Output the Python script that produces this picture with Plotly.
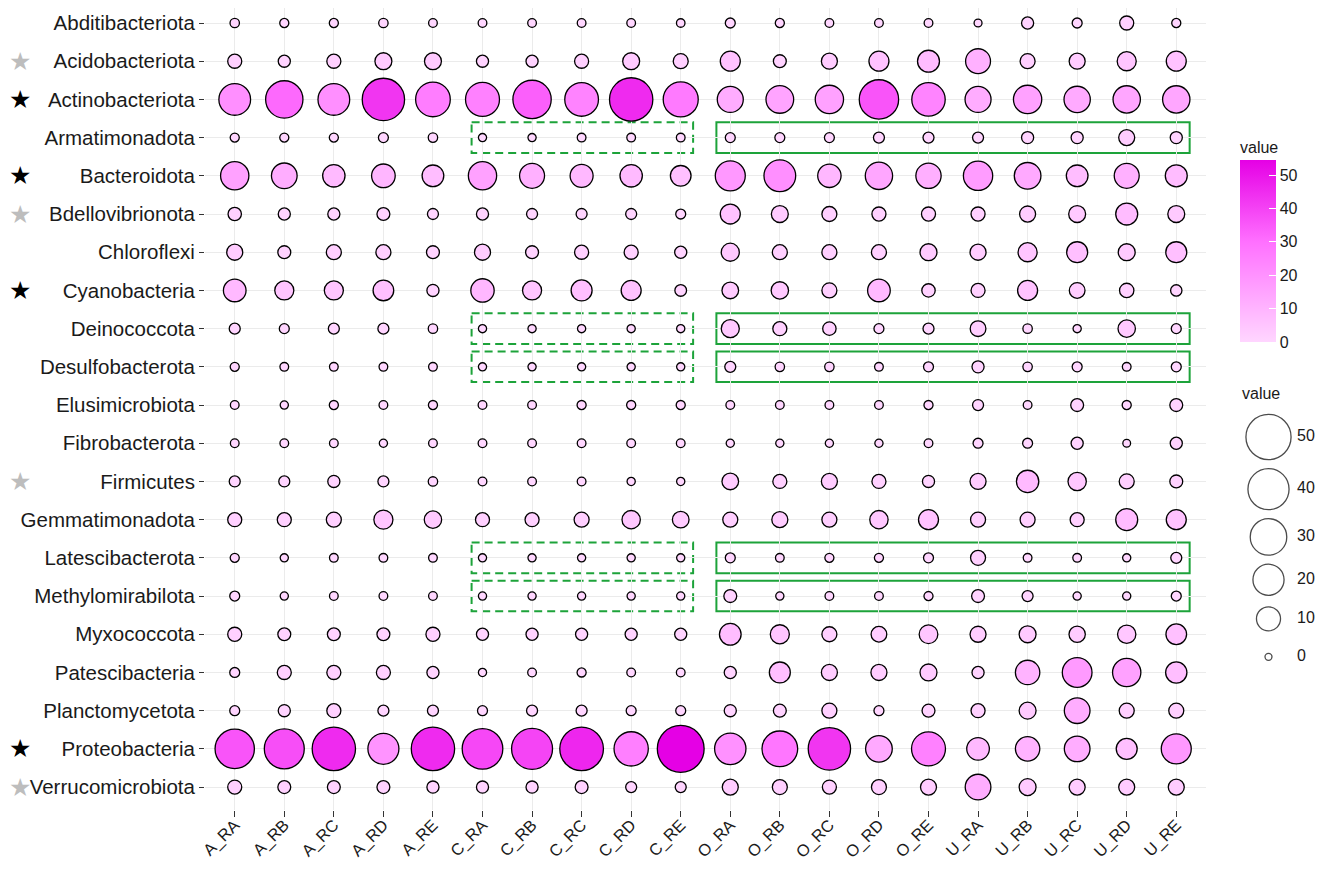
import math
import plotly.graph_objects as go

# ---------------- data ----------------
samples = ['A_RA', 'A_RB', 'A_RC', 'A_RD', 'A_RE', 'C_RA', 'C_RB', 'C_RC', 'C_RD', 'C_RE',
           'O_RA', 'O_RB', 'O_RC', 'O_RD', 'O_RE', 'U_RA', 'U_RB', 'U_RC', 'U_RD', 'U_RE']

phyla = ['Abditibacteriota', 'Acidobacteriota', 'Actinobacteriota', 'Armatimonadota',
         'Bacteroidota', 'Bdellovibrionota', 'Chloroflexi', 'Cyanobacteria', 'Deinococcota',
         'Desulfobacterota', 'Elusimicrobiota', 'Fibrobacterota', 'Firmicutes',
         'Gemmatimonadota', 'Latescibacterota', 'Methylomirabilota', 'Myxococcota',
         'Patescibacteria', 'Planctomycetota', 'Proteobacteria', 'Verrucomicrobiota']

Abditibacteriota = [0.2, 0.15, 0.15, 0.2, 0.1, 0.1, 0.1, 0.1, 0.1, 0.08, 0.3, 0.15, 0.1, 0.1, 0.1, 0.03, 0.9, 0.3, 1.7, 0.15]
Acidobacteriota = [1.7, 0.9, 1.7, 3.4, 3.4, 0.9, 0.9, 1.7, 3.4, 2.2, 5.8, 1.2, 2.8, 5.8, 7.7, 11, 2.2, 2.8, 5, 5.8]
Actinobacteriota = [21, 31.6, 21, 43, 26.3, 25, 33.7, 24.5, 45.4, 27, 12.4, 14.7, 15.6, 36, 24, 12.4, 15.6, 12.8, 14.2, 14.2]
Armatimonadota = [0.15, 0.15, 0.15, 0.3, 0.2, 0.05, 0.05, 0.1, 0.1, 0.1, 0.3, 0.3, 0.3, 0.55, 0.55, 0.55, 0.9, 0.9, 2.8, 0.9]
Bacteroidota = [15.6, 12, 8.1, 9.5, 7.4, 15.6, 11.1, 8.8, 8.1, 6.4, 18.2, 21, 9.2, 14.2, 11.5, 17.1, 13.3, 7.4, 11.1, 7.7]
Bdellovibrionota = [1.4, 0.9, 0.9, 1.2, 0.55, 0.9, 0.55, 0.55, 0.55, 0.3, 5.8, 3.4, 2.2, 1.7, 1.7, 1.7, 2.8, 3.4, 7.7, 3.4]
Chloroflexi = [2.8, 1.2, 2.2, 2.2, 1.2, 2.8, 1.2, 1.7, 1.7, 0.9, 4.2, 2.2, 2.2, 2.2, 3.4, 2.8, 5, 6.7, 3.4, 6.7]
Cyanobacteria = [8.4, 5, 5, 6.4, 0.9, 9.2, 5, 6.7, 5.8, 0.75, 3.2, 3.7, 2.2, 8.4, 1.4, 1.7, 5.8, 2.6, 1.85, 0.65]
Deinococcota = [0.55, 0.3, 0.55, 0.55, 0.2, 0.05, 0.05, 0.05, 0.05, 0.05, 4.2, 1.7, 1.4, 0.3, 0.55, 2.6, 0.2, 0.05, 3.7, 0.3]
Desulfobacterota = [0.15, 0.1, 0.1, 0.1, 0.1, 0.05, 0.05, 0.05, 0.05, 0.05, 0.55, 0.2, 0.2, 0.1, 0.3, 0.9, 0.2, 0.3, 0.1, 0.3]
Elusimicrobiota = [0.1, 0.05, 0.15, 0.1, 0.15, 0.1, 0.1, 0.15, 0.15, 0.15, 0.1, 0.1, 0.1, 0.1, 0.15, 0.55, 0.1, 1.2, 0.15, 1.2]
Fibrobacterota = [0.1, 0.1, 0.1, 0.05, 0.1, 0.1, 0.1, 0.1, 0.1, 0.1, 0.05, 0.05, 0.05, 0.05, 0.1, 0.3, 0.3, 0.9, 0.02, 0.9]
Firmicutes = [0.55, 0.55, 0.9, 0.55, 0.2, 0.1, 0.1, 0.1, 0.05, 0.05, 3.2, 1.7, 2.8, 1.7, 0.9, 2.8, 8.1, 4.4, 2.2, 1.2]
Gemmatimonadota = [1.7, 1.7, 2.2, 5, 3.7, 1.7, 1.7, 2.2, 4.4, 3.2, 2.2, 2.8, 2.2, 4.4, 5.8, 2.2, 2.2, 1.7, 7.7, 5.8]
Latescibacterota = [0.15, 0.05, 0.1, 0.1, 0.1, 0.05, 0.05, 0.05, 0.05, 0.05, 0.3, 0.1, 0.15, 0.15, 0.3, 2.2, 0.1, 0.1, 0.05, 0.55]
Methylomirabilota = [0.3, 0.05, 0.1, 0.1, 0.1, 0.05, 0.05, 0.05, 0.05, 0.05, 1.2, 0.05, 0.1, 0.1, 0.15, 1.2, 0.55, 0.05, 0.05, 0.3]
Myxococcota = [1.7, 1.2, 1.2, 1.2, 1.7, 0.9, 0.9, 0.9, 0.9, 0.9, 7.4, 5, 2.2, 2.6, 4.7, 2.8, 3.4, 3, 4.4, 6.4]
Patescibacteria = [0.3, 1.7, 1.7, 1.7, 0.9, 0.05, 0.1, 0.15, 0.1, 0.1, 0.9, 6.7, 2.8, 2.8, 3.4, 0.9, 10.4, 17.7, 15.6, 7]
Planctomycetota = [0.3, 0.9, 1.7, 0.55, 0.55, 0.3, 0.55, 0.55, 0.3, 0.3, 0.9, 1.2, 2.2, 0.3, 1.2, 1.7, 3.4, 12, 2.2, 2.2]
Proteobacteria = [36, 37.4, 45.4, 19.8, 45.4, 38.9, 39.7, 46.2, 25.6, 54.5, 20.4, 28.3, 43, 13.3, 25, 8.4, 10.4, 12, 6.7, 18.2]
Verrucomicrobiota = [1.7, 1.2, 1.2, 1.2, 0.9, 0.9, 0.9, 1.2, 0.55, 0.55, 2.8, 2.2, 1.7, 2.2, 2.8, 12, 3.4, 2.8, 2.8, 2.8]

black_star = ['Actinobacteriota', 'Bacteroidota', 'Cyanobacteria', 'Proteobacteria']
grey_star = ['Acidobacteriota', 'Bdellovibrionota', 'Firmicutes', 'Verrucomicrobiota']
boxed_rows = ['Armatimonadota', 'Deinococcota', 'Desulfobacterota', 'Latescibacterota', 'Methylomirabilota']
dashed_cols = ['C_RA', 'C_RE']
solid_cols = ['O_RA', 'U_RE']
size_legend_values = [50, 40, 30, 20, 10, 0]
colorbar_ticks = [0, 10, 20, 30, 40, 50]

rows = [Abditibacteriota, Acidobacteriota, Actinobacteriota, Armatimonadota, Bacteroidota,
        Bdellovibrionota, Chloroflexi, Cyanobacteria, Deinococcota, Desulfobacterota,
        Elusimicrobiota, Fibrobacterota, Firmicutes, Gemmatimonadota, Latescibacterota,
        Methylomirabilota, Myxococcota, Patescibacteria, Planctomycetota, Proteobacteria,
        Verrucomicrobiota]

# ---------------- helpers ----------------
VMAX = max(max(r) for r in rows)
D_MIN, D_RANGE = 7.0, 40.0


def diam(v):
    return D_MIN + D_RANGE * math.sqrt(max(v, 0) / 55.0)


colorscale = [[0.0, '#FFD6FF'], [0.55, '#FF70FF'], [1.0, '#E500E5']]

# ---------------- long format ----------------
xs, ys, vals, sizes = [], [], [], []
for ri, row in enumerate(rows):
    for ci, v in enumerate(row):
        xs.append(ci)
        ys.append(ri)
        vals.append(v)
        sizes.append(diam(v))

# ---------------- layout geometry ----------------
# page body has an 8px margin, so figure coordinates = screen coordinates - 8
OFF = 8
W, H = 1325 - 2 * OFF, 870 - 2 * OFF
ML, MR, MT = 205 - OFF, 2, 0
panel_bottom = 810 - OFF
MB = H - panel_bottom
PW = W - ML - MR
PH = H - MT - MB
panel_right = 1206 - OFF
x_dom_end = (panel_right - ML) / PW
row_step = 38.2
top_pad = (23 - OFF) / row_step
leg_left = 1222 - OFF


def px(x_screen):
    return x_screen - OFF


fig = go.Figure()

fig.add_trace(go.Scatter(
    x=xs, y=ys, mode='markers',
    marker=dict(size=sizes, color=vals, coloraxis='coloraxis', opacity=1,
                line=dict(color='black', width=1.3)),
    showlegend=False, hoverinfo='skip'))

# size legend (helper axes measured in figure pixels)
leg_y = []
cur = px(437.0)
prev_h = None
for v in size_legend_values:
    h = max(diam(v) + 9, 38)
    if prev_h is not None:
        cur += (prev_h + h) / 2
    leg_y.append(cur)
    prev_h = h
fig.add_trace(go.Scatter(
    x=[px(1268.5)] * len(size_legend_values), y=leg_y, mode='markers',
    marker=dict(size=[diam(v) for v in size_legend_values], color='white',
                line=dict(color='black', width=1.3)),
    xaxis='x2', yaxis='y2', cliponaxis=False, showlegend=False, hoverinfo='skip'))
fig.add_trace(go.Scatter(
    x=[px(1297)] * len(size_legend_values), y=leg_y, mode='text',
    text=[str(v) for v in size_legend_values], textposition='middle right',
    textfont=dict(size=16, color='#1a1a1a'),
    xaxis='x2', yaxis='y2', cliponaxis=False, showlegend=False, hoverinfo='skip'))

annotations = [dict(text='value', x=px(1240), y=px(393), xref='x2', yref='y2', showarrow=False,
                    xanchor='left', yanchor='middle', font=dict(size=16, color='#1a1a1a'))]

# stars (left edge of the figure)
for name in black_star + grey_star:
    annotations.append(dict(text='★', x=(0 - ML) / PW, xref='paper',
                            y=phyla.index(name), yref='y', showarrow=False,
                            xanchor='left', yanchor='middle', borderpad=0,
                            font=dict(size=25, family='DejaVu Sans',
                                      color='black' if name in black_star else '#BDBDBD')))

# rectangles
shapes = []
for name in boxed_rows:
    r = phyla.index(name)
    c0, c1 = samples.index(dashed_cols[0]), samples.index(dashed_cols[1])
    shapes.append(dict(type='rect', xref='x', yref='y', x0=c0 - 0.22, x1=c1 + 0.25,
                       y0=r - 0.4, y1=r + 0.4, layer='below',
                       line=dict(color='#1DA33A', width=2, dash='8px,5px')))
    c0, c1 = samples.index(solid_cols[0]), samples.index(solid_cols[1])
    shapes.append(dict(type='rect', xref='x', yref='y', x0=c0 - 0.28, x1=c1 + 0.27,
                       y0=r - 0.4, y1=r + 0.4, layer='below',
                       line=dict(color='#1DA33A', width=2)))

font_family = 'Liberation Sans, Arial, sans-serif'
cb_bottom = px(342)

fig.update_layout(
    width=W, height=H, autosize=False,
    margin=dict(l=ML, r=MR, t=MT, b=MB, pad=0, autoexpand=False),
    paper_bgcolor='white', plot_bgcolor='white',
    font=dict(family=font_family, color='#1a1a1a'),
    xaxis=dict(domain=[0, x_dom_end], range=[-0.6, len(samples) - 0.4],
               tickvals=list(range(len(samples))), ticktext=samples,
               tickangle=-45, tickfont=dict(size=16.5, color='#1a1a1a'),
               ticklabelstandoff=-8,
               ticks='outside', ticklen=6, tickwidth=1.3, tickcolor='#333333',
               showgrid=True, gridcolor='#EBEBEB', gridwidth=1.4,
               zeroline=False, showline=False, automargin=False),
    yaxis=dict(domain=[0, 1], range=[len(phyla) - 0.4, -top_pad],
               tickvals=list(range(len(phyla))), ticktext=phyla,
               tickfont=dict(size=20.5, color='#1a1a1a'),
               ticks='outside', ticklen=5, tickwidth=1.3, tickcolor='#333333',
               showgrid=True, gridcolor='#EBEBEB', gridwidth=1.4,
               zeroline=False, showline=False, automargin=False),
    xaxis2=dict(domain=[(leg_left - ML) / PW, 1], range=[leg_left, W - MR],
                visible=False, anchor='y2'),
    yaxis2=dict(domain=[0, 1], range=[PH, 0], visible=False, anchor='x2'),
    coloraxis=dict(
        colorscale=colorscale, cmin=0, cmax=VMAX,
        colorbar=dict(
            title=dict(text='value', side='top', font=dict(size=16, color='#1a1a1a')),
            x=(px(1240) - ML) / PW, xanchor='left', xref='paper',
            y=1 - cb_bottom / PH, yanchor='bottom', yref='paper',
            len=204, lenmode='pixels', thickness=36, thicknessmode='pixels',
            xpad=0, ypad=0, outlinewidth=0,
            tickvals=colorbar_ticks, ticks='inside', ticklen=7, tickcolor='white',
            tickwidth=1.2, tickfont=dict(size=16, color='#1a1a1a'))),
    annotations=annotations,
    shapes=shapes,
)

fig.write_html('out.html')
